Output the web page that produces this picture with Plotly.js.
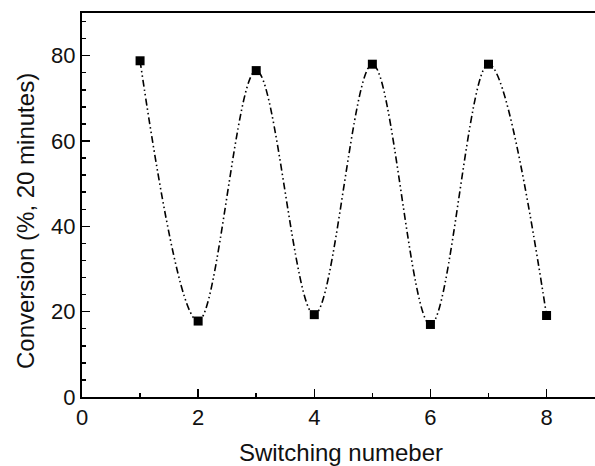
<!DOCTYPE html>
<html>
<head>
<meta charset="utf-8">
<script src="https://cdn.plot.ly/plotly-3.0.1.min.js"></script>
<style>
html,body{margin:0;padding:0;overflow:hidden;background:#fff;}
#chart{width:600px;height:466px;}
</style>
</head>
<body>
<div id="chart"></div>
<script>
const switchingNumber = [1, 2, 3, 4, 5, 6, 7, 8];
const conversion = [78.8, 17.8, 76.5, 19.3, 78.0, 17.0, 78.0, 19.1];
const xTickVals = [0, 2, 4, 6, 8];
const yTickVals = [0, 20, 40, 60, 80];
const xTitle = 'Switching numeber';
const yTitle = 'Conversion (%, 20 minutes)';

const fontFam = 'Liberation Sans, Arial, sans-serif';

const traces = [
  {
    x: switchingNumber, y: conversion,
    mode: 'lines', type: 'scatter',
    line: {shape: 'spline', smoothing: 1.0, color: '#000', width: 1.6, dash: '7px,3px,1.5px,3px,1.5px,3px'},
    hoverinfo: 'skip', showlegend: false
  },
  {
    x: switchingNumber, y: conversion,
    mode: 'markers', type: 'scatter',
    marker: {symbol: 'square', size: 9, color: '#000'},
    showlegend: false
  }
];

const layout = {
  width: 600, height: 466,
  margin: {l: 82, r: 0, t: 13, b: 69},
  paper_bgcolor: '#fff', plot_bgcolor: '#fff',
  font: {family: fontFam, color: '#111'},
  xaxis: {
    range: [0, 8.92], tickvals: xTickVals, ticktext: xTickVals.map(String),
    ticks: 'inside', ticklen: 8, tickwidth: 1.5, tickcolor: '#000',
    minor: {dtick: 1, tick0: 0, ticks: 'inside', ticklen: 4, tickwidth: 1.5, tickcolor: '#000', showgrid: false},
    showline: true, linewidth: 2, linecolor: '#000', mirror: true,
    showgrid: false, zeroline: false,
    tickfont: {size: 22, family: fontFam},
    title: {text: xTitle, font: {size: 24, family: fontFam}, standoff: 19}
  },
  yaxis: {
    range: [0, 90], tickvals: yTickVals, ticktext: yTickVals.map(String),
    ticks: 'inside', ticklen: 8, tickwidth: 1.5, tickcolor: '#000',
    minor: {dtick: 4, tick0: 0, ticks: 'inside', ticklen: 4, tickwidth: 1.5, tickcolor: '#000', showgrid: false},
    showline: true, linewidth: 2, linecolor: '#000', mirror: false,
    showgrid: false, zeroline: false,
    tickfont: {size: 22, family: fontFam}
  },
  annotations: [{
    text: yTitle, textangle: -90, showarrow: false,
    xref: 'paper', yref: 'paper',
    x: (25 - 82) / 518, y: (397 - 221) / 384,
    xanchor: 'center', yanchor: 'middle',
    font: {size: 24, family: fontFam, color: '#111'}
  }]
};

Plotly.newPlot('chart', traces, layout, {displayModeBar: false, staticPlot: true});
</script>
</body>
</html>
